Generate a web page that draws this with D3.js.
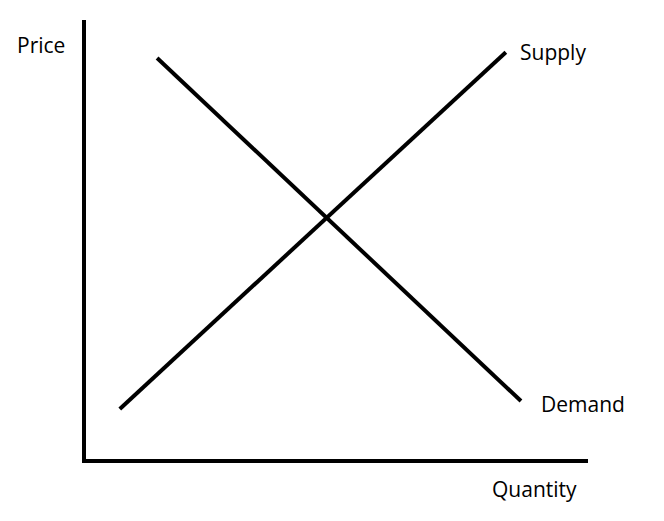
<!DOCTYPE html>
<html><head><meta charset="utf-8">
<script src="https://cdn.jsdelivr.net/npm/d3@7"></script>
<style>body{margin:0;background:#fff}</style>
</head><body>
<svg id="chart" width="664" height="521"></svg>
<script>
// curve end points in chart units (0-100)
const supplyX = [7.1, 83.7];
const supplyY = [11.8, 92.7];
const demandX = [14.5, 86.7];
const demandY = [91.4, 13.6];
const axisLabels = ["Price", "Quantity"];
const curveLabels = ["Supply", "Demand"];

const svg = d3.select('#chart');
const x = d3.scaleLinear().domain([0, 100]).range([84, 588]);
const y = d3.scaleLinear().domain([0, 100]).range([461, 20]);
const line = d3.line().x(d => x(d[0])).y(d => y(d[1]));

// axes drawn as plain lines
svg.append('path').attr('d', line([[0, 100], [0, 0], [100, 0]]))
    .attr('fill', 'none').attr('stroke', '#000').attr('stroke-width', 4);

const curves = [
    {xs: supplyX, ys: supplyY},
    {xs: demandX, ys: demandY}
];
curves.forEach(c => {
    svg.append('path').attr('d', line(c.xs.map((v, i) => [v, c.ys[i]])))
        .attr('fill', 'none').attr('stroke', '#000').attr('stroke-width', 4);
});

const txt = (s, px, py) => svg.append('text').attr('x', px).attr('y', py)
    .attr('font-family', 'Open Sans, sans-serif').attr('font-size', 21).text(s);
txt(axisLabels[0], 17, 53);
txt(axisLabels[1], 492, 497);
txt(curveLabels[0], 520, 60);
txt(curveLabels[1], 541, 412);
</script>
</body></html>
